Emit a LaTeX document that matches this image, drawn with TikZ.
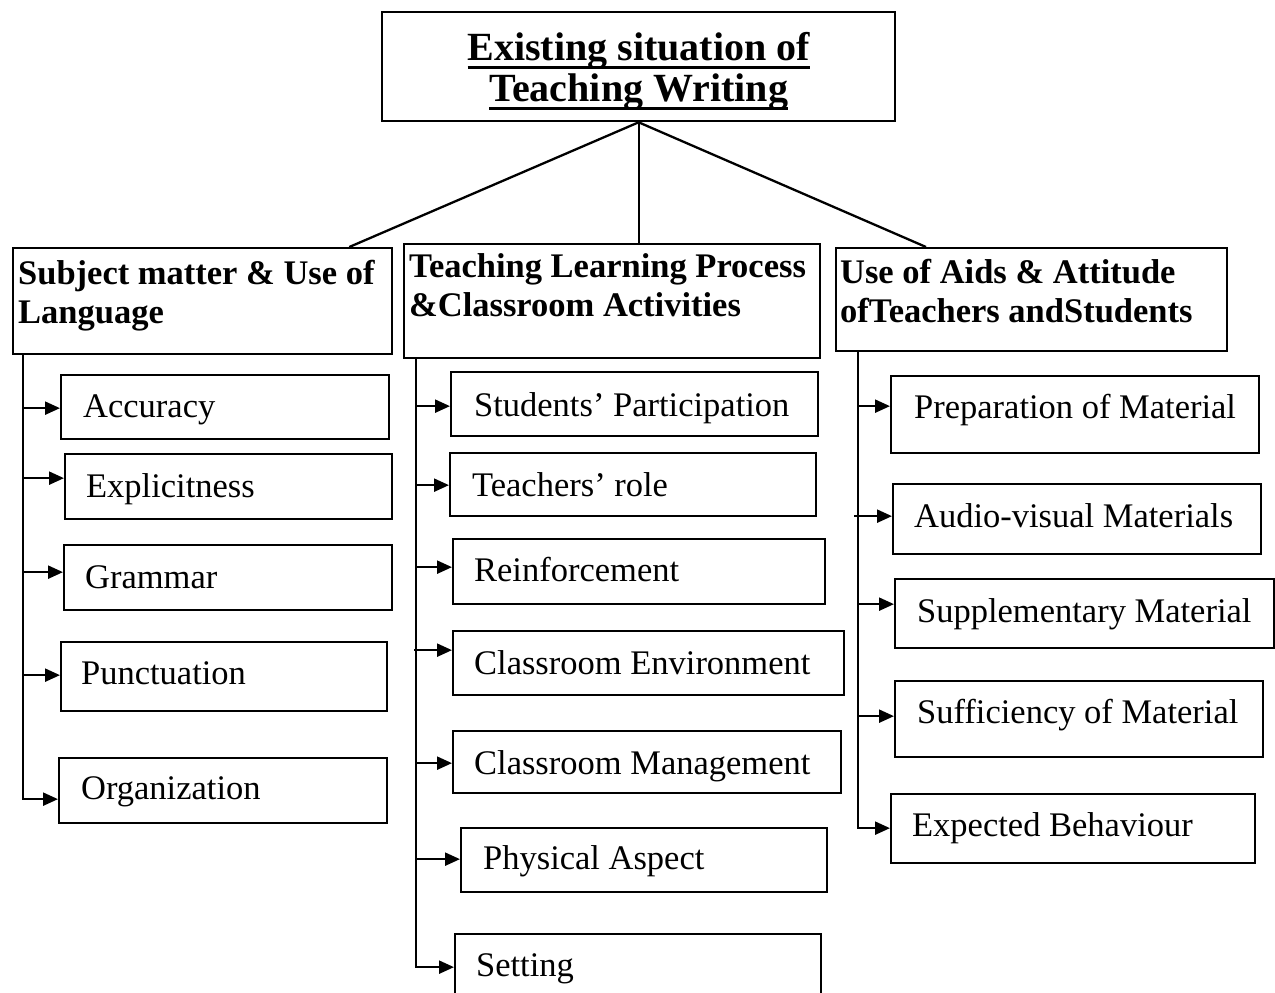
\documentclass[tikz,border=0pt]{standalone}
\usepackage{fontspec}
\setmainfont{Liberation Serif}
\usetikzlibrary{arrows.meta}
\newsavebox\ulsave
\newcommand\ulword[1]{\leavevmode\sbox\ulsave{#1}\rlap{\rule[-8.5pt]{\wd\ulsave}{2.8pt}}\usebox\ulsave}
% name, L, T, W, text height, text depth, left pad, text, arrow yshift
\newcommand\mkitem[9]{%
  \node[box, text height=#5pt, text depth=#6pt] (#1) at (#2,#3) {\makebox[#4pt][l]{\hspace*{#7pt}#8}};
  \coordinate (#1-in) at ([yshift=#9pt]#1.west);}
\begin{document}
\begin{tikzpicture}[x=1pt,y=-1pt,
  box/.style={draw, line width=2.3pt, inner sep=0pt, anchor=north west,
    font=\fontsize{34.5pt}{39pt}\selectfont},
  head/.style={box, font=\fontsize{34.5pt}{39pt}\selectfont\bfseries},
  link/.style={line width=2.3pt},
  arr/.style={line width=2.3pt, -{Triangle[length=15pt,width=13pt]}}]
\useasboundingbox (0,0) rectangle (1275,993);
\clip (0,0) rectangle (1275,993);
\fill[white] (0,0) rectangle (1275,993);

% title
\node[box, text height=48pt, text depth=61pt,
  font=\fontsize{40pt}{41pt}\selectfont\bfseries] (title) at (381,11)
  {\parbox[t]{513pt}{\centering\ulword{Existing situation of}\\\ulword{Teaching Writing}}};

% headings
\node[head, text height=36pt, text depth=70pt] (h1) at (12,247)
  {\parbox[t]{379pt}{\raggedright\leftskip=5pt Subject matter \& Use of\\Language}};
\node[head, text height=33pt, text depth=81pt] (h2) at (403,243)
  {\parbox[t]{416pt}{\raggedright\leftskip=5pt Teaching Learning Process\\\&Classroom Activities}};
\node[head, text height=35pt, text depth=68pt] (h3) at (835,247)
  {\parbox[t]{391pt}{\raggedright\leftskip=4pt Use of Aids \& Attitude\\ofTeachers andStudents}};

% links from the title
\coordinate (h1top) at ([xshift=-44pt]h1.north east);
\coordinate (h3top) at ([xshift=91pt]h3.north west);
\draw[link] (title.south) -- (h1top);
\draw[link] (title.south) -- (title.south |- h2.north);
\draw[link] (title.south) -- (h3top);

% column 1
\mkitem{acc}{60}{374}{328}{42}{22}{22}{Accuracy}{-1}
\mkitem{exp}{64}{453}{327}{43}{22}{21}{Explicitness}{8.5}
\mkitem{gra}{63}{544}{328}{43}{22}{21}{Grammar}{5.5}
\mkitem{pun}{60}{641}{326}{42}{27}{20}{Punctuation}{1.5}
\mkitem{org}{58}{757}{328}{41}{24}{22}{Organization}{-8.5}

% column 2
\mkitem{stu}{450}{371}{367}{44}{20}{23}{Students’ Participation}{-2}
\mkitem{tea}{449}{452}{366}{43}{20}{22}{Teachers’ role}{-0.5}
\mkitem{rei}{452}{538}{372}{42}{23}{21}{Reinforcement}{4.5}
\mkitem{env}{452}{630}{391}{43}{21}{21}{Classroom Environment}{13}
\mkitem{man}{452}{730}{388}{43}{19}{21}{Classroom Management}{-1}
\mkitem{phy}{460}{827}{366}{41}{23}{22}{Physical Aspect}{1}
\mkitem{set}{454}{933}{366}{42}{35}{21}{Setting}{5.5}

% column 3
\mkitem{pre}{890}{375}{368}{42}{35}{23}{Preparation of Material}{8.5}
\mkitem{aud}{892}{483}{368}{43}{27}{21}{Audio-visual Materials}{3}
\mkitem{sup}{894}{578}{379}{43}{26}{22}{Supplementary Material}{9.5}
\mkitem{suf}{894}{680}{368}{42}{34}{22}{Sufficiency of Material}{3}
\mkitem{expb}{890}{793}{364}{42}{27}{21}{Expected Behaviour}{0.5}

% trunks
\coordinate (t1) at ([xshift=11pt]h1.south west);
\coordinate (t2) at ([xshift=13pt]h2.south west);
\coordinate (t3) at ([xshift=23pt]h3.south west);

\draw[arr] (t1) |- (org-in);
\foreach \n in {acc,exp,gra,pun} \draw[arr] (t1 |- \n-in) -- (\n-in);

\draw[arr] (t2) |- (set-in);
\foreach \n in {stu,tea,rei,man,phy} \draw[arr] (t2 |- \n-in) -- (\n-in);
\draw[arr] ([xshift=-2pt]t2 |- env-in) -- (env-in);

\draw[arr] (t3) |- (expb-in);
\foreach \n in {pre,sup,suf} \draw[arr] (t3 |- \n-in) -- (\n-in);
\draw[arr] ([xshift=-4pt]t3 |- aud-in) -- (aud-in);
\end{tikzpicture}
\end{document}
